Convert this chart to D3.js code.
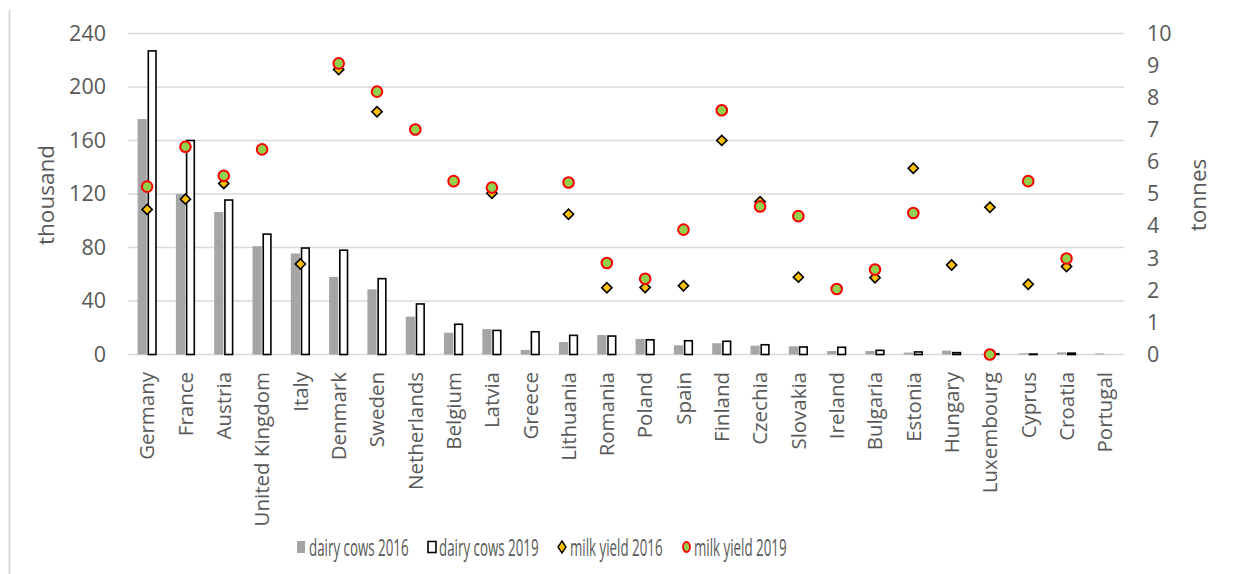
<!DOCTYPE html>
<html lang="en">
<head>
    <meta charset="UTF-8">
    <script src="https://d3js.org/d3.v7.min.js"></script>
    <title>Dairy cows and milk yield</title>
    <style>
        body {
            margin: 0;
            background: white;
            font-family: "Open Sans", sans-serif;
        }
        svg text {
            fill: #595959;
        }
        .grid line {
            stroke: #d9d9d9;
            stroke-width: 1.5;
        }
    </style>
</head>
<body>
    <div id="chart"></div>

    <script>
        // Données
        const countries = ["Germany", "France", "Austria", "United Kingdom", "Italy", "Denmark", "Sweden",
            "Netherlands", "Belgium", "Latvia", "Greece", "Lithuania", "Romania", "Poland", "Spain",
            "Finland", "Czechia", "Slovakia", "Ireland", "Bulgaria", "Estonia", "Hungary",
            "Luxembourg", "Cyprus", "Croatia", "Portugal"];

        // dairy cows (thousand)
        const cows2016 = [176, 120, 106.5, 81, 75.5, 58, 48.7, 28.3, 16.3, 19, 3.4, 9.3, 14.6, 11.6, 6.9,
            8.4, 6.6, 6.1, 2.6, 2.6, 1.4, 2.9, 0.3, 0.9, 1.6, 0.8];
        const cows2019 = [227, 160, 115.5, 90, 79.6, 78, 56.7, 37.8, 22.6, 18, 17, 14.3, 13.8, 11, 10.3,
            9.9, 7.3, 5.6, 5.4, 3.1, 1.9, 1.4, 0.5, 0.3, 1, 0];

        // milk yield (tonnes), null = pas de valeur
        const yield2016 = [4.52, 4.84, 5.33, null, 2.82, 8.88, 7.56, null, null, 5.02, null, 4.37, 2.08,
            2.09, 2.14, 6.67, 4.76, 2.41, null, 2.39, 5.80, 2.79, 4.59, 2.19, 2.74, null];
        const yield2019 = [5.23, 6.47, 5.57, 6.39, null, 9.07, 8.19, 7.01, 5.40, 5.20, null, 5.36, 2.85,
            2.36, 3.89, 7.61, 4.61, 4.31, 2.04, 2.65, 4.41, null, 0, 5.40, 2.99, null];

        const leftTicks = [0, 40, 80, 120, 160, 200, 240];
        const rightTicks = d3.range(0, 11);

        const width = 1237;
        const height = 574;
        const margin = { top: 33.5, right: 113, bottom: 219.5, left: 128 };

        const svg = d3.select("#chart")
            .append("svg")
            .attr("width", width)
            .attr("height", height);

        // bordure gauche du cadre
        svg.append("line")
            .attr("x1", 9.5).attr("x2", 9.5)
            .attr("y1", 10).attr("y2", height)
            .attr("stroke", "#d9d9d9")
            .attr("stroke-width", 2);

        // Échelles
        const x = d3.scaleBand()
            .domain(countries)
            .range([margin.left, width - margin.right])
            .paddingInner(0.5)
            .paddingOuter(0.25);

        const xSub = d3.scaleBand()
            .domain(["2016", "2019"])
            .range([0, x.bandwidth()])
            .paddingInner(0.08);

        const y = d3.scaleLinear()
            .domain([0, 240])
            .range([height - margin.bottom, margin.top]);

        const y2 = d3.scaleLinear()
            .domain([0, 10])
            .range([height - margin.bottom, margin.top]);

        // Grille
        svg.append("g")
            .attr("class", "grid")
            .selectAll("line")
            .data(leftTicks)
            .join("line")
            .attr("x1", margin.left)
            .attr("x2", width - margin.right)
            .attr("y1", d => y(d))
            .attr("y2", d => y(d));

        // Axe gauche
        const yAxis = svg.append("g")
            .attr("transform", `translate(${margin.left - 22},0)`)
            .call(d3.axisLeft(y).tickValues(leftTicks).tickSize(0).tickPadding(0));
        yAxis.select(".domain").remove();
        yAxis.selectAll("text")
            .attr("font-family", "Open Sans")
            .attr("font-size", 21.5)
            .style("fill", "#595959");

        // Axe droit
        const y2Axis = svg.append("g")
            .attr("transform", `translate(${width - margin.right + 23},0)`)
            .call(d3.axisRight(y2).tickValues(rightTicks).tickSize(0).tickPadding(0));
        y2Axis.select(".domain").remove();
        y2Axis.selectAll("text")
            .attr("font-family", "Open Sans")
            .attr("font-size", 21.5)
            .style("fill", "#595959");

        // Titres des axes
        svg.append("text")
            .attr("transform", "translate(45,195) rotate(-90)")
            .attr("text-anchor", "middle")
            .attr("dominant-baseline", "central")
            .attr("font-size", 22.5)
            .text("thousand");

        svg.append("text")
            .attr("transform", "translate(1197,195) rotate(-90)")
            .attr("text-anchor", "middle")
            .attr("dominant-baseline", "central")
            .attr("font-size", 22.5)
            .text("tonnes");

        // Barres 2016
        svg.append("g")
            .selectAll("rect")
            .data(countries)
            .join("rect")
            .attr("x", (d, i) => x(d) + xSub("2016"))
            .attr("y", (d, i) => y(cows2016[i]))
            .attr("width", xSub.bandwidth())
            .attr("height", (d, i) => y(0) - y(cows2016[i]))
            .attr("fill", "#a5a5a5");

        // Barres 2019
        svg.append("g")
            .selectAll("rect")
            .data(countries.filter((d, i) => cows2019[i] > 0))
            .join("rect")
            .attr("x", d => x(d) + xSub("2019") + 0.75)
            .attr("y", d => y(cows2019[countries.indexOf(d)]))
            .attr("width", xSub.bandwidth() - 1.5)
            .attr("height", d => y(0) - y(cows2019[countries.indexOf(d)]))
            .attr("fill", "white")
            .attr("stroke", "black")
            .attr("stroke-width", 1.6);

        // Étiquettes des pays
        svg.append("g")
            .selectAll("text")
            .data(countries)
            .join("text")
            .attr("transform", d => `translate(${x(d) + x.bandwidth() / 2},372) rotate(-90) scale(1.05,1)`)
            .attr("text-anchor", "end")
            .attr("dominant-baseline", "central")
            .attr("font-size", 19.5)
            .text(d => d);

        const diamond = d3.symbol().type(d3.symbolSquare).size(52);

        // Rendement 2016 (losanges)
        svg.append("g")
            .selectAll("path")
            .data(countries.filter((d, i) => yield2016[i] !== null))
            .join("path")
            .attr("d", diamond)
            .attr("transform", d => `translate(${x(d) + x.bandwidth() / 2},${y2(yield2016[countries.indexOf(d)])}) rotate(45)`)
            .attr("fill", "#ffc000")
            .attr("stroke", "black")
            .attr("stroke-width", 1.6);

        // Rendement 2019 (cercles)
        svg.append("g")
            .selectAll("circle")
            .data(countries.filter((d, i) => yield2019[i] !== null))
            .join("circle")
            .attr("cx", d => x(d) + x.bandwidth() / 2)
            .attr("cy", d => y2(yield2019[countries.indexOf(d)]))
            .attr("r", 5.3)
            .attr("fill", "#92d050")
            .attr("stroke", "#ff0000")
            .attr("stroke-width", 2);

        // Légende
        const legendItems = [
            { label: "dairy cows 2016", type: "gray", x: 297 },
            { label: "dairy cows 2019", type: "white", x: 427 },
            { label: "milk yield 2016", type: "diamond", x: 558 },
            { label: "milk yield 2019", type: "circle", x: 682 }
        ];

        const legend = svg.append("g")
            .selectAll("g")
            .data(legendItems)
            .join("g")
            .attr("transform", d => `translate(${d.x},547)`);

        legend.each(function(d) {
            const g = d3.select(this);
            if (d.type === "gray") {
                g.append("rect").attr("x", 0).attr("y", -6).attr("width", 8).attr("height", 12).attr("fill", "#a5a5a5");
            } else if (d.type === "white") {
                g.append("rect").attr("x", 1).attr("y", -5.5).attr("width", 8).attr("height", 11)
                    .attr("fill", "white").attr("stroke", "black").attr("stroke-width", 1.6);
            } else if (d.type === "diamond") {
                g.append("path").attr("d", "M4,-6L8,0L4,6L0,0Z")
                    .attr("fill", "#ffc000").attr("stroke", "black").attr("stroke-width", 1.4);
            } else {
                g.append("ellipse").attr("cx", 4.5).attr("cy", 0).attr("rx", 3.5).attr("ry", 5)
                    .attr("fill", "#92d050").attr("stroke", "#ff0000").attr("stroke-width", 1.8);
            }
            g.append("text")
                .attr("transform", "translate(12,0) scale(0.58,1)")
                .attr("dominant-baseline", "central")
                .attr("font-size", 23)
                .text(d.label);
        });
    </script>
</body>
</html>
